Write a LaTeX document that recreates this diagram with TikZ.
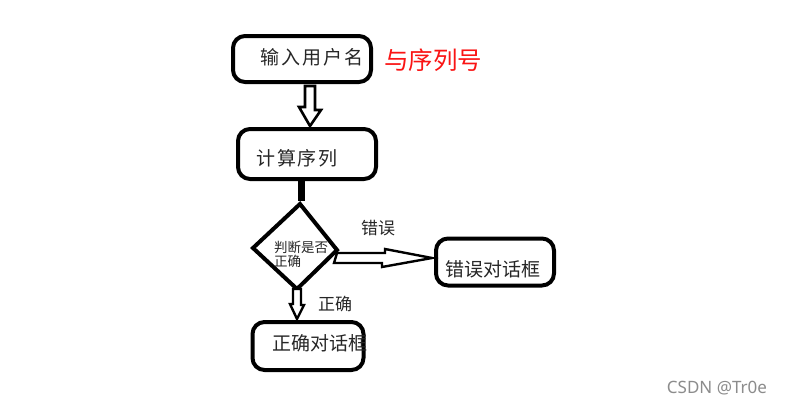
\documentclass[tikz,border=0pt]{standalone}
\usepackage{fontspec}
\newfontfamily\cjk{Noto Sans CJK SC}
\newfontfamily\cjkwide[LetterSpace=10]{Noto Sans CJK SC}
\newfontfamily\wm{Noto Sans}
\usetikzlibrary{calc}
\tikzset{
  box/.style={draw=black, line width=4pt, rounded corners=12pt, inner sep=0pt},
  txt/.style={font=\cjk\fontsize{19}{21}\selectfont, inner sep=0pt, text=black!85},
  widetxt/.style={font=\cjkwide\fontsize{19}{21}\selectfont, inner sep=0pt, text=black!85},
  small/.style={font=\cjk\fontsize{13.5}{16}\selectfont, inner sep=0pt, align=left, text=black!85},
  hollow/.style={draw=black, line width=2.6pt, fill=white, line join=miter},
}
\begin{document}
\begin{tikzpicture}[x=1pt,y=-1pt]
\useasboundingbox[fill=white] (0,0) rectangle (787,407);
% boxes
\node[box, minimum width=138pt, minimum height=46pt] (b1) at (302,59) {};
\node[box, minimum width=138pt, minimum height=50pt] (b2) at (307,154) {};
\node[box, minimum width=118pt, minimum height=47pt] (b3) at (495,262) {};
\node[box, minimum width=111pt, minimum height=48pt] (b4) at (308,346) {};
% diamond
\coordinate (dt) at (300,204);
\coordinate (dl) at (253,248);
\coordinate (dr) at (337,250);
\coordinate (db) at (297,289);
\draw[line width=4pt, line join=miter] (dt) -- (dr) -- (db) -- (dl) -- cycle;
% texts
\node[widetxt] (t1) at (312,57) {输入用户名};
\node[font=\cjk\fontsize{24.5}{26}\selectfont, text={rgb,255:red,250;green,20;blue,20}, inner sep=0pt] (t1r) at (433,60) {与序列号};
\node[widetxt] (t2) at (297,158) {计算序列};
\node[small] (td) at (301,254) {判断是否\\[-2pt]正确};
\node[txt] (t3) at (493,269) {错误对话框};
\node[txt] (t4) at (320,343) {正确对话框};
\node[font=\cjk\fontsize{17}{19}\selectfont, inner sep=0pt, text=black!85] (le) at (378,228) {错误};
\node[font=\cjk\fontsize{17}{19}\selectfont, inner sep=0pt, text=black!85] (lc) at (335,304) {正确};
% arrow 1: hollow, b1 -> b2
\draw[hollow] ($(b1.south)+(3,2)$) -- ++(10,0) -- ++(0,24) -- ++(6,0) -- ($(b2.north)+(3,-1)$) -- ++(-11,-19) -- ++(6,0) -- cycle;
% arrow 2: thick black, b2 -> diamond
\draw[line width=7pt] ($(b2.south)+(-6,0)$) -- ($(dt)+(1,-3)$);
% arrow 3: hollow, diamond -> b3
\draw[hollow, line width=2.4pt] ($(dr)+(0,3)$) -- ++(48,0) -- ++(0,-4) -- ($(b3.west)+(-2,-4)$) -- ++(-50,9) -- ++(0,-4) -- ++(-48,0) -- cycle;
% arrow 4: hollow, diamond -> b4
\draw[hollow, line width=2.4pt] ($(db)+(-4,0)$) -- ++(8,0) -- ++(0,16) -- ++(3,0) -- ($(b4.north)+(-11,-1)$) -- ++(-7,-15) -- ++(3,0) -- cycle;
% watermark
\node[font=\wm\fontsize{17}{19}\selectfont, text=black!45, inner sep=0pt] (wmk) at (717,388) {CSDN @Tr0e};
\end{tikzpicture}
\end{document}
